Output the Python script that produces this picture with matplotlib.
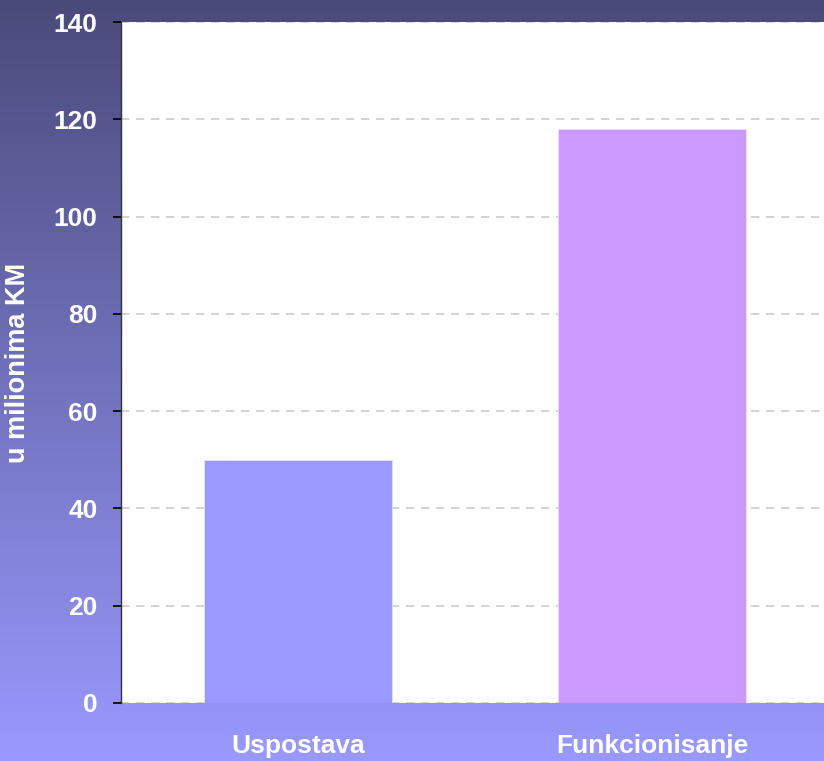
import numpy as np
import matplotlib
matplotlib.use("Agg")
import matplotlib.pyplot as plt
from matplotlib.colors import LinearSegmentedColormap

categories = ["Uspostava", "Funkcionisanje"]
values = [50, 118]
bar_colors = ["#9999ff", "#cc99ff"]
yticks = [0, 20, 40, 60, 80, 100, 120, 140]
ylabel = "u milionima KM"

plt.rcParams['font.family'] = ['Liberation Sans', 'DejaVu Sans']

W, H = 824, 761
fig = plt.figure(figsize=(W / 100, H / 100), dpi=100)

# gradient background
bg = fig.add_axes([0, 0, 1, 1], zorder=0)
cmap = LinearSegmentedColormap.from_list("bg", ["#4a4a7a", "#9999ff"])
grad = np.linspace(0, 1, 256).reshape(-1, 1)
bg.imshow(grad, aspect="auto", cmap=cmap, extent=[0, 1, 0, 1], origin="upper")
bg.set_axis_off()

left, right, top, bottom = 121, 829, 22, 703
ax = fig.add_axes([left / W, 1 - bottom / H, (right - left) / W, (bottom - top) / H], zorder=1)
ax.set_facecolor("white")
x = np.arange(len(categories))
ax.bar(x, values, width=0.53, color=bar_colors, zorder=3, edgecolor="#e6e0ff", linewidth=0.6)
ax.set_xlim(-0.5, 1.5)
ax.set_ylim(0, 140)
ax.set_yticks(yticks)
ax.set_yticklabels([str(t) for t in yticks], color="white", fontsize=19, fontweight="bold")
ax.set_xticks(x)
ax.set_xticklabels(categories, color="white", fontsize=19, fontweight="bold")
ax.tick_params(axis="x", length=0, pad=22)
ax.tick_params(axis="y", length=6, width=1.2, color="black", pad=11)
ax.grid(axis="y", color="#cccccc", linestyle=(0, (5, 4)), linewidth=1.2, zorder=0)
for s in ["top", "right", "bottom"]:
    ax.spines[s].set_visible(False)
ax.spines["left"].set_color("#333333")
ax.spines["left"].set_linewidth(1.0)

fig.text(18 / W, 1 - 363 / H, ylabel, rotation=90, color="white", fontsize=19.5,
         fontweight="bold", ha="center", va="center")

fig.savefig("out.png", dpi=100)
